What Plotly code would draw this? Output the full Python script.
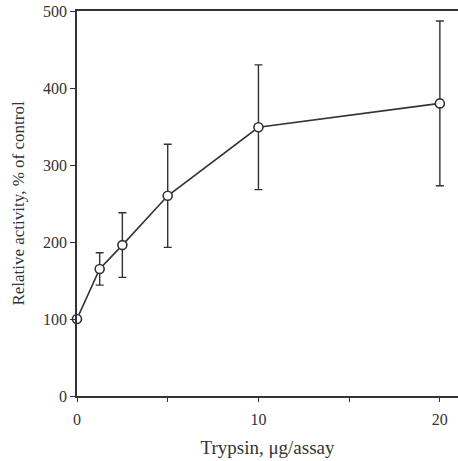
import plotly.graph_objects as go

trypsin = [0, 1.25, 2.5, 5, 10, 20]
activity = [100, 165, 196, 260, 349, 380]
err = [0, 21, 42, 67, 81, 107]

x_tickvals = [0, 5, 10, 15, 20]
x_ticktext = ["0", "", "10", "", "20"]
y_tickvals = [0, 100, 200, 300, 400, 500]

ink = "#333333"
font_family = "Liberation Serif"

fig = go.Figure()
fig.add_trace(go.Scatter(
    x=trypsin, y=activity,
    mode="lines+markers",
    line=dict(color=ink, width=1.6),
    marker=dict(symbol="circle", size=9, color="white", line=dict(color=ink, width=1.6)),
    error_y=dict(type="data", array=err, visible=True, color=ink, thickness=1.4, width=4),
    cliponaxis=False,
    showlegend=False,
))

fig.update_layout(
    width=458, height=461,
    margin=dict(l=77, r=0, t=11, b=65),
    paper_bgcolor="white", plot_bgcolor="white",
    font=dict(family=font_family, color=ink, size=16),
    xaxis=dict(
        range=[0, 21], tickvals=x_tickvals, ticktext=x_ticktext,
        showline=True, linecolor=ink, linewidth=1.6, mirror=True,
        ticks="outside", ticklen=4, tickwidth=1.4, tickcolor=ink,
        showgrid=False, zeroline=False, ticklabelstandoff=4,
        title=dict(text="Trypsin, μg/assay", font=dict(size=19, family=font_family, color=ink), standoff=14),
    ),
    yaxis=dict(
        range=[0, 500], tickvals=y_tickvals,
        showline=True, linecolor=ink, linewidth=1.6,
        ticks="outside", ticklen=5, tickwidth=1.4, tickcolor=ink,
        showgrid=False, zeroline=False,
        title=dict(text="Relative activity, % of control", font=dict(size=17, family=font_family, color=ink), standoff=14),
    ),
)

fig.write_html("out.html")
